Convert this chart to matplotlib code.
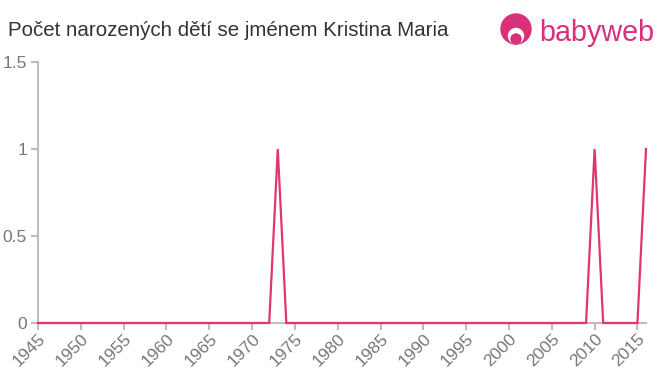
import numpy as np
import matplotlib.pyplot as plt
from matplotlib.patches import Circle

# data
years = list(range(1945, 2017))
peak_years = [1973, 2010, 2016]
counts = [1 if y in peak_years else 0 for y in years]
x_ticks = list(range(1945, 2016, 5))
y_ticks = [0, 0.5, 1, 1.5]
y_labels = ["0", "0.5", "1", "1.5"]

plt.rcParams['font.family'] = ['Liberation Sans', 'DejaVu Sans']

fig = plt.figure(figsize=(6.6, 3.75), dpi=100)
ax = fig.add_axes([38 / 660, 1 - 323 / 375, (646 - 38) / 660, (323 - 62) / 375])

line_col = '#e0356e'
axis_col = '#bdbdbd'
text_col = '#777777'

ax.plot(years, counts, color=line_col, lw=1.6, solid_joinstyle='miter', zorder=3, clip_on=False)

ax.set_xlim(1945, 2016)
ax.set_ylim(0, 1.5)
ax.set_xticks(x_ticks)
ax.set_xticklabels([str(t) for t in x_ticks], rotation=45, ha='right', rotation_mode='anchor')
ax.set_yticks(y_ticks)
ax.set_yticklabels(y_labels)

for s in ['top', 'right']:
    ax.spines[s].set_visible(False)
for s in ['left', 'bottom']:
    ax.spines[s].set_color(axis_col)
    ax.spines[s].set_linewidth(1.5)
ax.tick_params(axis='both', colors=axis_col, length=5, width=1.5, labelcolor=text_col, labelsize=12.5)
ax.tick_params(axis='x', pad=1)
ax.tick_params(axis='y', pad=3)

fig.text(8 / 660, 1 - 31 / 375, "Počet narozených dětí se jménem Kristina Maria",
         fontsize=14.8, color='#333333', va='center', ha='left')

# babyweb logo
logo_col = '#d8307a'
lax = fig.add_axes([499 / 660, 1 - 50 / 375, 34 / 660, 38 / 375])
lax.set_xlim(0, 34)
lax.set_ylim(0, 38)
lax.set_aspect('equal')
lax.axis('off')
lax.add_patch(Circle((17, 21), 15, color=logo_col))
lax.add_patch(Circle((17, 14), 7.5, color='white'))
lax.add_patch(Circle((17, 11), 5, color=logo_col))
fig.text(539 / 660, 1 - 33 / 375, "babyweb", fontsize=20.7, color=logo_col,
         va='center', ha='left')

fig.savefig('out.png', dpi=100)
